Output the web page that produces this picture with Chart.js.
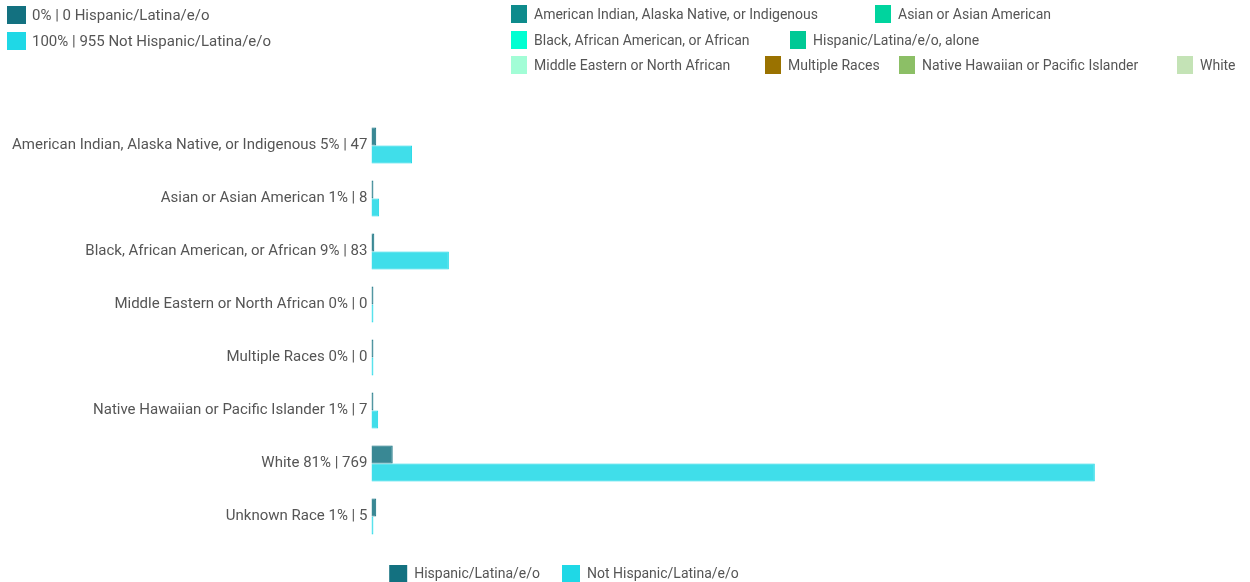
<!DOCTYPE html>
<html>
<head>
<meta charset="utf-8">
<script src="https://cdn.jsdelivr.net/npm/chart.js@4"></script>
<style>
  html, body { margin: 0; background: #fff; font-family: Roboto, sans-serif; overflow: hidden; }
  #wrap { position: relative; width: 1250px; height: 582px; overflow: hidden; }
  #box { position: absolute; left: 0; top: 0; width: 1128px; height: 593px; }
  .key { position: absolute; display: flex; align-items: center; color: #555; white-space: nowrap; }
  .key i { display: inline-block; margin-right: 7px; }
  .big { font-size: 15px; }
  .big i { width: 19px; height: 18px; margin-right: 6px; }
  .small { font-size: 14px; }
  .small i { width: 16px; height: 18px; }
</style>
</head>
<body>
<div id="wrap">
  <div id="box"><canvas id="chart"></canvas></div>
  <div id="keys"></div>
</div>
<script>
const categories = [
  "American Indian, Alaska Native, or Indigenous",
  "Asian or Asian American",
  "Black, African American, or African",
  "Middle Eastern or North African",
  "Multiple Races",
  "Native Hawaiian or Pacific Islander",
  "White",
  "Unknown Race",
];
const hispanic = [5, 0, 3, 0, 0, 0, 22, 5];
const notHispanic = [42, 8, 80, 0, 0, 7, 747, 0];
const shares = ["5%", "1%", "9%", "0%", "0%", "1%", "81%", "1%"];

const summary = [
  { text: "0% | 0 Hispanic/Latina/e/o", color: "#137180" },
  { text: "100% | 955 Not Hispanic/Latina/e/o", color: "#1fd8e6" },
];
const raceKeys = [
  { text: "American Indian, Alaska Native, or Indigenous", color: "#0e8b8c" },
  { text: "Asian or Asian American", color: "#00d49e" },
  { text: "Black, African American, or African", color: "#00ffd2" },
  { text: "Hispanic/Latina/e/o, alone", color: "#00c995" },
  { text: "Middle Eastern or North African", color: "#a2fdd6" },
  { text: "Multiple Races", color: "#9a7200" },
  { text: "Native Hawaiian or Pacific Islander", color: "#8cbf66" },
  { text: "White", color: "#c4e3b6" },
];
const racePos = [[511, 14], [875, 14], [511, 40], [790, 40], [511, 65], [765, 65], [899, 65], [1177, 65]];

const keys = document.querySelector("#keys");
summary.forEach((k, i) => {
  const d = document.createElement("div");
  d.className = "key big";
  d.style.left = "7px";
  d.style.top = (6 + i * 26) + "px";
  d.innerHTML = `<i style="background:${k.color}"></i>${k.text}`;
  keys.appendChild(d);
});
raceKeys.forEach((k, i) => {
  const d = document.createElement("div");
  d.className = "key small";
  d.style.left = racePos[i][0] + "px";
  d.style.top = (racePos[i][1] - 9) + "px";
  d.innerHTML = `<i style="background:${k.color}"></i>${k.text}`;
  keys.appendChild(d);
});

const labels = categories.map((c, i) => `${c} ${shares[i]} | ${hispanic[i] + notHispanic[i]}`);

const chart = document.querySelector("#chart").getContext("2d");

new Chart(chart, {
  type: "bar",
  data: {
    labels: labels,
    datasets: [
      {
        label: "Hispanic/Latina/e/o",
        data: hispanic,
        backgroundColor: "rgba(19,113,128,0.84)",
        borderColor: "#137180",
        borderWidth: 1,
        minBarLength: 2,
        barPercentage: 1,
        categoryPercentage: 0.68,
      },
      {
        label: "Not Hispanic/Latina/e/o",
        data: notHispanic,
        backgroundColor: "rgba(31,216,230,0.85)",
        borderColor: "#1fd8e6",
        borderWidth: 1,
        minBarLength: 2,
        barPercentage: 1,
        categoryPercentage: 0.68,
      },
    ],
  },
  options: {
    indexAxis: "y",
    responsive: true,
    maintainAspectRatio: false,
    animation: false,
    layout: { padding: { top: 119, right: 8, left: 8 } },
    scales: {
      x: { display: false, min: 0, max: 773 },
      y: {
        grid: { display: false, drawTicks: false },
        border: { display: false },
        ticks: { color: "#555", font: { family: "Roboto", size: 15 }, padding: 4 },
      },
    },
    plugins: {
      tooltip: { enabled: false },
      legend: {
        position: "bottom",
        labels: {
          boxWidth: 18,
          boxHeight: 18,
          color: "#555",
          font: { family: "Roboto", size: 14 },
          padding: 22,
          generateLabels: (c) =>
            c.data.datasets.map((ds, i) => ({
              text: ds.label,
              fillStyle: ds.borderColor,
              strokeStyle: ds.borderColor,
              lineWidth: 0,
              fontColor: "#555",
              datasetIndex: i,
            })),
        },
      },
    },
  },
});
</script>
</body>
</html>
